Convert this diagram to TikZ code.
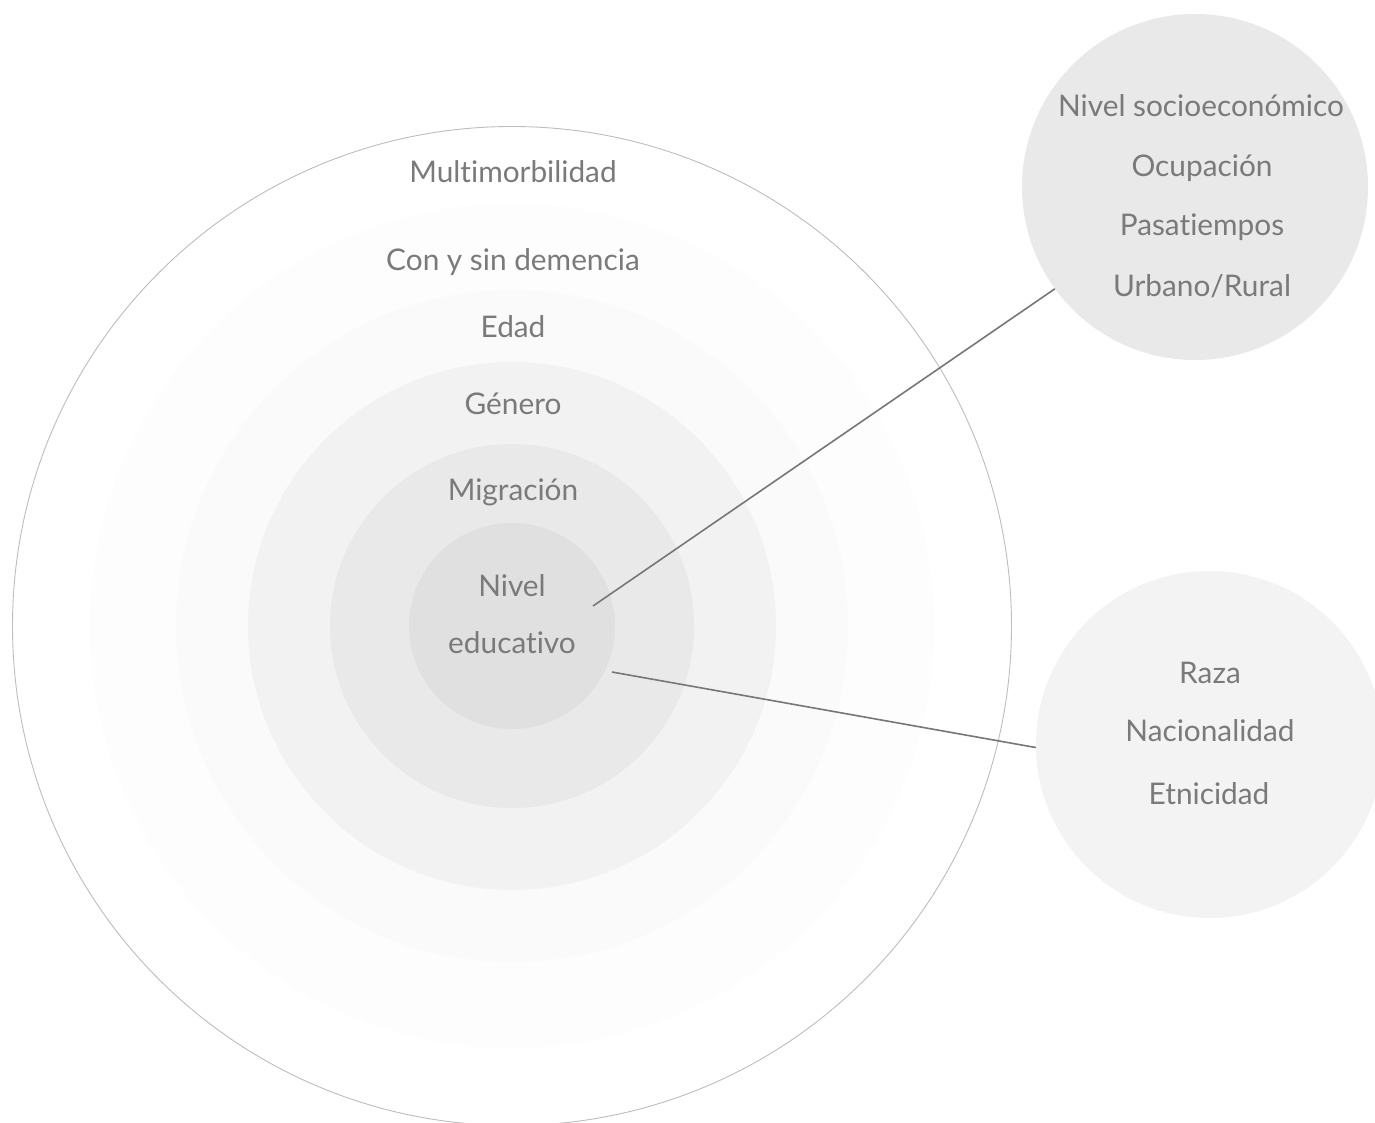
\documentclass[tikz,border=0pt]{standalone}
\usepackage{fontspec}
\setmainfont{Lato}[Ligatures=NoCommon]
\definecolor{txtgray}{HTML}{7A7A7A}
\definecolor{linegray}{HTML}{777777}
\definecolor{ringA}{HTML}{FDFDFD}
\definecolor{ringB}{HTML}{FAFAFA}
\definecolor{ringC}{HTML}{F2F2F2}
\definecolor{ringD}{HTML}{E9E9E9}
\definecolor{ringE}{HTML}{E0E0E0}
\definecolor{sideA}{HTML}{E9E9E9}
\definecolor{sideB}{HTML}{F3F3F3}
\definecolor{outline}{HTML}{BDBDBD}
\begin{document}
\begin{tikzpicture}[x=1pt,y=-1pt,
  disc/.style={circle, inner sep=0pt, draw=none},
  lbl/.style={anchor=base, text=txtgray, inner sep=0pt, font=\fontsize{29.8}{34}\selectfont},
  conn/.style={draw=linegray, line width=1.6pt}]
\clip (0,0) rectangle (1375,1122);
\fill[white] (0,0) rectangle (1375,1122);
% concentric circles
\node[disc, fill=white, draw=outline, line width=0.9pt, minimum size=999pt] (outer) at (512,626) {};
\node[disc, fill=ringA, minimum size=844pt] (ra) at (512,626) {};
\node[disc, fill=ringB, minimum size=672pt] (rb) at (512,626) {};
\node[disc, fill=ringC, minimum size=528pt] (rc) at (512,626) {};
\node[disc, fill=ringD, minimum size=364pt] (rd) at (512,626) {};
\node[disc, fill=ringE, minimum size=206pt] (re) at (512,626) {};
% side circles
\node[disc, fill=sideA, minimum size=346pt] (socio) at (1195,187) {};
\node[disc, fill=sideB, minimum size=347pt] (raza) at (1209.5,744.5) {};
% labels
\node[lbl] (t1) at (513,182) {Multimorbilidad};
\node[lbl] (t2) at (513,270) {Con y sin demencia};
\node[lbl] (t3) at (513,337) {Edad};
\node[lbl] (t4) at (513,414) {Género};
\node[lbl] (t5) at (513,500) {Migración};
\node[lbl] (t6) at (512,596) {Nivel};
\node[lbl] (t7) at (512,653) {educativo};
\node[lbl] (s1) at (1201,116) {Nivel socioeconómico};
\node[lbl] (s2) at (1202,176) {Ocupación};
\node[lbl] (s3) at (1202,235) {Pasatiempos};
\node[lbl] (s4) at (1202,296) {Urbano/Rural};
\node[lbl] (u1) at (1210,683) {Raza};
\node[lbl] (u2) at (1210,741) {Nacionalidad};
\node[lbl] (u3) at (1209,804) {Etnicidad};
% connectors
\coordinate (c1) at (593,606);
\coordinate (c2) at (612,672);
\draw[conn] (c1) -- (socio.216);
\draw[conn] (c2) -- (raza.181);
\end{tikzpicture}
\end{document}
